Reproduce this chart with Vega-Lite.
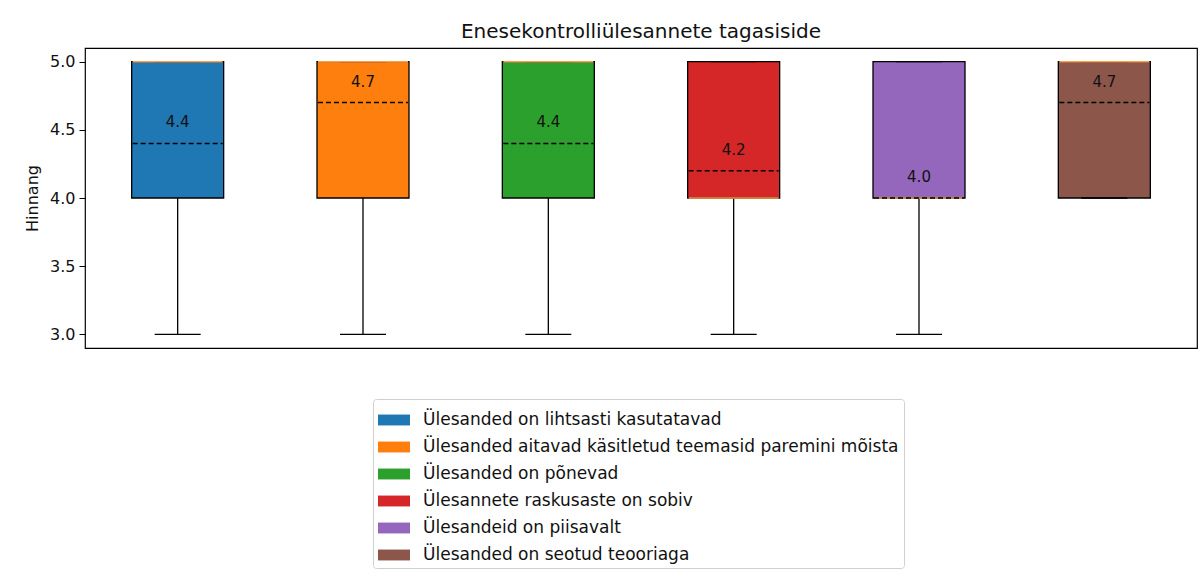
{
  "$schema": "https://vega.github.io/schema/vega-lite/v6.json",
  "width": 1112,
  "height": 300,
  "autosize": {"type": "none"},
  "padding": {"left": 85, "top": 48, "right": 6, "bottom": 230},
  "title": {"text": "Enesekontrolliülesannete tagasiside", "font": "DejaVu Sans", "fontSize": 20, "fontWeight": "normal", "color": "#111111", "offset": 6},
  "config": {"view": {"stroke": "black", "strokeWidth": 1.2}, "font": "DejaVu Sans"},
  "data": {"values": [
    {"name": "Ülesanded on lihtsasti kasutatavad", "i": 1, "lo": 3, "q1": 4, "med": 5, "q3": 5, "hi": 5, "mean": 4.4},
    {"name": "Ülesanded aitavad käsitletud teemasid paremini mõista", "i": 2, "lo": 3, "q1": 4, "med": 5, "q3": 5, "hi": 5, "mean": 4.7},
    {"name": "Ülesanded on põnevad", "i": 3, "lo": 3, "q1": 4, "med": 5, "q3": 5, "hi": 5, "mean": 4.4},
    {"name": "Ülesannete raskusaste on sobiv", "i": 4, "lo": 3, "q1": 4, "med": 4, "q3": 5, "hi": 5, "mean": 4.2},
    {"name": "Ülesandeid on piisavalt", "i": 5, "lo": 3, "q1": 4, "med": 4, "q3": 5, "hi": 5, "mean": 4.0},
    {"name": "Ülesanded on seotud teooriaga", "i": 6, "lo": 4, "q1": 4, "med": 5, "q3": 5, "hi": 5, "mean": 4.7}
  ]},
  "encoding": {
    "x": {"field": "i", "type": "quantitative", "scale": {"domain": [0.5, 6.5], "nice": false, "zero": false}, "axis": null}
  },
  "layer": [
    {
      "mark": {"type": "rule", "color": "black", "strokeWidth": 1.3},
      "encoding": {
        "y": {"field": "lo", "type": "quantitative",
          "scale": {"domain": [2.9, 5.1], "nice": false, "zero": false},
          "axis": {"title": "Hinnang", "titleFont": "DejaVu Sans", "titleFontSize": 16, "titleFontWeight": "normal", "titleColor": "#111111", "titlePadding": 9,
            "values": [3.0, 3.5, 4.0, 4.5, 5.0], "format": ".1f", "labelFont": "DejaVu Sans", "labelFontSize": 16, "labelColor": "#111111", "labelPadding": 4,
            "tickColor": "black", "tickSize": 6, "domain": false, "grid": false}},
        "y2": {"field": "q1"}
      }
    },
    {
      "mark": {"type": "rect", "stroke": "black", "strokeWidth": 1.3, "xOffset": -46, "x2Offset": 46},
      "encoding": {
        "x2": {"field": "i"},
        "y": {"field": "q1", "type": "quantitative"},
        "y2": {"field": "q3"},
        "color": {"field": "name", "type": "nominal", "sort": null,
          "scale": {"range": ["#1f77b4", "#ff7f0e", "#2ca02c", "#d62728", "#9467bd", "#8c564b"]},
          "legend": {"orient": "none", "legendX": 288, "legendY": 351, "title": null,
            "labelFont": "DejaVu Sans", "labelFontSize": 17, "labelColor": "#111111", "labelLimit": 700,
            "symbolType": "M-1,-0.34H1V0.34H-1Z", "symbolSize": 1024, "symbolStrokeWidth": 0, "symbolOpacity": 1,
            "labelOffset": 13, "rowPadding": 3, "strokeColor": "#d0d0d0", "fillColor": "white", "padding": 5, "cornerRadius": 3}}
      }
    },
    {
      "mark": {"type": "rule", "color": "black", "strokeWidth": 1.3, "xOffset": -23, "x2Offset": 23},
      "encoding": {"x2": {"field": "i"}, "y": {"field": "lo", "type": "quantitative"}}
    },
    {
      "mark": {"type": "rule", "color": "black", "strokeWidth": 1.3, "xOffset": -23, "x2Offset": 23},
      "encoding": {"x2": {"field": "i"}, "y": {"field": "hi", "type": "quantitative"}}
    },
    {
      "mark": {"type": "rule", "color": "#ff9f4a", "strokeWidth": 1.5, "xOffset": -45, "x2Offset": 45},
      "encoding": {"x2": {"field": "i"}, "y": {"field": "med", "type": "quantitative"}}
    },
    {
      "mark": {"type": "rule", "color": "black", "strokeWidth": 1.4, "strokeDash": [5, 3], "xOffset": -45, "x2Offset": 45},
      "encoding": {"x2": {"field": "i"}, "y": {"field": "mean", "type": "quantitative"}}
    },
    {
      "mark": {"type": "text", "color": "#111111", "font": "DejaVu Sans", "fontSize": 15, "dy": -21, "baseline": "middle"},
      "encoding": {"y": {"field": "mean", "type": "quantitative"}, "text": {"field": "mean", "type": "quantitative", "format": ".1f"}}
    }
  ]
}
